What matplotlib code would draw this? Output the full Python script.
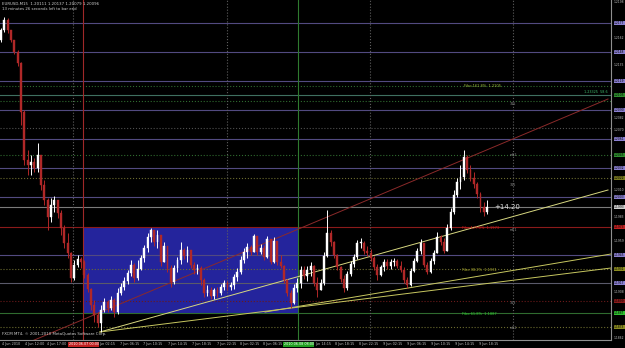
import matplotlib
matplotlib.use("Agg")
import matplotlib.pyplot as plt
from matplotlib.patches import Rectangle
from matplotlib.transforms import blended_transform_factory as btf

# ---------------- data (EURUSD M15) ----------------
first_open = 1.2160
closes = [1.2170,1.2180,1.2170,1.2160,1.2148,1.2137,1.2088,1.2040,1.2035,1.2038,
          1.2032,1.2045,1.2015,1.2000,1.1983,1.1995,1.2000,1.1987,1.1972,1.1957,
          1.1947,1.1922,1.1935,1.1941,1.1938,1.1925,1.1911,1.1895,1.1885,1.1877,
          1.1890,1.1898,1.1892,1.1900,1.1888,1.1907,1.1913,1.1919,1.1927,1.1935,
          1.1922,1.1931,1.1942,1.1952,1.1963,1.1970,1.1958,1.1965,1.1938,1.1954,
          1.1932,1.1918,1.1932,1.1940,1.1950,1.1944,1.1950,1.1935,1.1930,1.1932,
          1.1920,1.1907,1.1910,1.1904,1.1910,1.1907,1.1913,1.1917,1.1913,1.1915,
          1.1923,1.1928,1.1940,1.1948,1.1953,1.1948,1.1964,1.1948,1.1952,1.1943,
          1.1961,1.1938,1.1959,1.1938,1.1934,1.1920,1.1907,1.1897,1.1912,1.1917,
          1.1930,1.1924,1.1930,1.1934,1.1917,1.1910,1.1917,1.1944,1.1967,1.1958,
          1.1945,1.1933,1.1921,1.1912,1.1926,1.1936,1.1943,1.1957,1.1957,1.1949,
          1.1947,1.1942,1.1933,1.1925,1.1933,1.1938,1.1934,1.1938,1.1939,1.1934,
          1.1930,1.1920,1.1915,1.1929,1.1939,1.1949,1.1957,1.1935,1.1928,1.1939,
          1.1947,1.1963,1.1958,1.1949,1.1972,1.1988,1.2005,1.2018,1.2023,1.2043,
          1.2030,1.2022,1.2016,1.2006,1.1993,1.1988,1.1993]
highs = [1.2172,1.2183,1.2182,1.2170,1.2160,1.2150,1.2138,1.2090,1.2050,1.2045,
         1.2042,1.2057,1.2045,1.2020,1.2002,1.2002,1.2004,1.2000,1.1990,1.1975,
         1.1967,1.1948,1.1940,1.1945,1.1943,1.1940,1.1927,1.1912,1.1900,1.1888,
         1.1895,1.1902,1.1900,1.1904,1.1902,1.1912,1.1917,1.1923,1.1930,1.1940,
         1.1937,1.1940,1.1945,1.1955,1.1967,1.1972,1.1970,1.1970,1.1965,1.1958,
         1.1954,1.1935,1.1935,1.1943,1.1958,1.1952,1.1954,1.1950,1.1938,1.1936,
         1.1934,1.1922,1.1915,1.1913,1.1912,1.1913,1.1916,1.1920,1.1919,1.1918,
         1.1926,1.1932,1.1944,1.1952,1.1957,1.1955,1.1966,1.1964,1.1956,1.1955,
         1.1964,1.1960,1.1963,1.1958,1.1945,1.1935,1.1921,1.1910,1.1916,1.1922,
         1.1934,1.1934,1.1934,1.1938,1.1935,1.1923,1.1921,1.1948,1.1990,1.1970,
         1.1959,1.1946,1.1934,1.1925,1.1929,1.1939,1.1946,1.1960,1.1962,1.1959,
         1.1954,1.1951,1.1944,1.1936,1.1935,1.1941,1.1941,1.1941,1.1942,1.1941,
         1.1939,1.1933,1.1923,1.1932,1.1942,1.1952,1.1961,1.1957,1.1938,1.1942,
         1.1950,1.1968,1.1965,1.1962,1.1976,1.1992,1.2010,1.2022,1.2035,1.2050,
         1.2045,1.2035,1.2028,1.2018,1.2008,1.1998,1.2000]
lows = [1.2158,1.2168,1.2167,1.2158,1.2146,1.2134,1.2075,1.2035,1.2025,1.2025,
        1.2028,1.2028,1.2010,1.1995,1.1970,1.1978,1.1988,1.1982,1.1965,1.1952,
        1.1942,1.1918,1.1920,1.1933,1.1932,1.1922,1.1908,1.1890,1.1878,1.1873,
        1.1868,1.1888,1.1888,1.1890,1.1883,1.1886,1.1905,1.1910,1.1916,1.1924,
        1.1918,1.1920,1.1930,1.1938,1.1948,1.1958,1.1954,1.1952,1.1934,1.1938,
        1.1928,1.1913,1.1916,1.1928,1.1936,1.1941,1.1938,1.1932,1.1926,1.1926,
        1.1915,1.1903,1.1904,1.1901,1.1901,1.1903,1.1905,1.1910,1.1910,1.1910,
        1.1911,1.1919,1.1926,1.1937,1.1942,1.1945,1.1948,1.1945,1.1946,1.1940,
        1.1942,1.1936,1.1937,1.1935,1.1932,1.1917,1.1904,1.1892,1.1896,1.1908,
        1.1912,1.1921,1.1919,1.1924,1.1914,1.1903,1.1910,1.1915,1.1943,1.1954,
        1.1942,1.1930,1.1918,1.1908,1.1910,1.1924,1.1933,1.1941,1.1952,1.1946,
        1.1944,1.1939,1.1930,1.1920,1.1924,1.1929,1.1931,1.1931,1.1934,1.1932,
        1.1928,1.1917,1.1912,1.1914,1.1928,1.1938,1.1946,1.1933,1.1926,1.1927,
        1.1936,1.1948,1.1955,1.1947,1.1951,1.1970,1.1986,1.2003,1.2011,1.2020,
        1.2027,1.2019,1.2012,1.2002,1.1988,1.1984,1.1986]
opens = [first_open] + closes[:-1]

# horizontal objects: (price, color, style)
hlines = [(1.2177,'#524a80','-'),(1.2148,'#524a80','-'),(1.2119,'#524a80','-'),
          (1.2114,'#2f6b2f',':'),(1.2105,'#3f7060','-'),(1.2099,'#2f6b2f',':'),
          (1.2090,'#524a80','-'),(1.2072,'#505050',':'),(1.2061,'#524a80','-'),
          (1.2045,'#2f6b2f',':'),(1.2032,'#524a80','-'),(1.2022,'#6b6b2f',':'),
          (1.2003,'#524a80','-'),(1.1993,'#7a7a7a','-'),(1.1973,'#8b1a1a','-'),
          (1.1945,'#524a80','-'),(1.1931,'#6b6b2f',':'),(1.1917,'#5a5a6a','-'),
          (1.1899,'#6b1a1a',':'),(1.1887,'#2f6b2f','-'),(1.1873,'#6b6b2f',':')]
# right axis tag colors for those lines
tags = [(1.2177,'#8a7fd0'),(1.2148,'#8a7fd0'),(1.2119,'#8a7fd0'),(1.2105,'#2f8f2f'),
        (1.2090,'#8a7fd0'),(1.2061,'#8a7fd0'),(1.2045,'#2f8f2f'),(1.2032,'#8a7fd0'),
        (1.2022,'#7a7a20'),(1.2003,'#8a7fd0'),(1.1993,'#d0d0d0'),(1.1973,'#c02020'),
        (1.1945,'#8a7fd0'),(1.1931,'#8a8a20'),(1.1917,'#8a7fd0'),(1.1899,'#8b1a1a'),
        (1.1887,'#30c030'),(1.1873,'#8a8a20')]
price_ticks = [1.2198,1.2162,1.2135,1.2082,1.2070,1.2010,1.1983,1.1959,1.1908,1.1862]
vlines = [(21.6,'#606060',':'),(24.6,'#a02828','-'),(67.9,'#606060',':'),
          (89.2,'#2f7a2f','-'),(110.8,'#606060',':'),(153.8,'#606060',':')]
box = (24.6, 89.2, 1.1887, 1.1973)
trend = [((0, 1.1846), (182.3, 1.2101), '#8b2a2a'),
         ((29.7, 1.1868), (182.3, 1.2010), '#d8d880'),
         ((29.7, 1.1868), (183.2, 1.1932), '#c8c860'),
         ((79.3, 1.1888), (183.2, 1.1946), '#c8c860')]
time_pos = [0.3,7.2,13.8,29.6,35.7,42.6,50.2,57.4,64.9,71.8,78.7,94.2,100.3,
            107.5,114.7,121.9,129.1,136.3,143.5]
time_lab = ['4 Jun 2010','4 Jun 12:00','4 Jun 17:00','Jun 02:15','7 Jun 06:15',
            '7 Jun 10:15','7 Jun 14:15','7 Jun 18:15','7 Jun 22:15','8 Jun 02:15',
            '8 Jun 06:15','Jun 14:15','8 Jun 18:15','8 Jun 22:15','9 Jun 02:15',
            '9 Jun 06:15','9 Jun 10:15','9 Jun 14:15','9 Jun 18:15']

# ---------------- figure ----------------
fig = plt.figure(figsize=(6.25, 3.48), dpi=100, facecolor='black')
ax = fig.add_axes([0, 8/348, 611/625, 340/348])
ax.set_facecolor('black')
ax.set_xlim(-0.3, 183.2)
ax.set_ylim(1.1860, 1.2200)
for s in ['top', 'left']:
    ax.spines[s].set_visible(False)
for s in ['right', 'bottom']:
    ax.spines[s].set_color('#909090')
    ax.spines[s].set_linewidth(0.8)
ax.set_xticks([])
ax.set_yticks([])

ax.add_patch(Rectangle((box[0], box[2]), box[1]-box[0], box[3]-box[2],
                       facecolor='#24249c', edgecolor='none', zorder=0.5))
for p, c, ls in hlines:
    ax.axhline(p, color=c, ls=ls, lw=0.8, zorder=1)
for xv, c, ls in vlines:
    ax.axvline(xv, color=c, ls=ls, lw=0.8, zorder=1)
for (x0, y0), (x1, y1), c in trend:
    ax.plot([x0, x1], [y0, y1], color=c, lw=0.7, zorder=2)

# candles
for i in range(len(closes)):
    o, h, l, c = opens[i], highs[i], lows[i], closes[i]
    up = c >= o
    col = '#ffffff' if up else '#b02828'
    ax.vlines(i, min(l, o, c), max(h, o, c), color=col, lw=0.7, zorder=3)
    lo, hi = min(o, c), max(o, c)
    ax.bar(i, max(hi - lo, 0.00008), bottom=lo, width=0.55, color=col,
           edgecolor=col, linewidth=0.3, zorder=4)

# right axis price labels
tr = btf(ax.transAxes, ax.transData)
for p in price_ticks:
    ax.text(1.005, p, f'{p:.4f}', transform=tr, fontsize=2.2, color='#c0c0c0',
            va='center', ha='left', clip_on=False)
for p, c in tags:
    ax.text(1.005, p, f'{p:.4f}', transform=tr, fontsize=2.2, color='black',
            va='center', ha='left', clip_on=False,
            bbox=dict(boxstyle='square,pad=0.1', fc=c, ec='none'))

# time axis labels
tb = btf(ax.transData, ax.transAxes)
for xp, lab in zip(time_pos, time_lab):
    ax.text(xp, -0.006, lab, transform=tb, fontsize=2.4, color='#c0c0c0',
            va='top', ha='left', clip_on=False)
ax.text(20.3, -0.006, '2010.06.07 00:00', transform=tb, fontsize=2.4, color='white',
        va='top', ha='left', clip_on=False,
        bbox=dict(boxstyle='square,pad=0.15', fc='#c02020', ec='none'))
ax.text(84.9, -0.006, '2010.06.08 08:00', transform=tb, fontsize=2.4, color='white',
        va='top', ha='left', clip_on=False,
        bbox=dict(boxstyle='square,pad=0.15', fc='#20a020', ec='none'))

# chart texts
ax.text(0.003, 0.993, 'EURUSD,M15  1.20111 1.20137 1.20079 1.20096', transform=ax.transAxes,
        fontsize=2.8, color='#d0d0d0', va='top', ha='left')
ax.text(0.003, 0.978, '13 minutes 26 seconds left to bar end', transform=ax.transAxes,
        fontsize=2.8, color='#d0d0d0', va='top', ha='left')
ax.text(0.003, 0.012, 'FXCM MT4, \u00a9 2001-2010 MetaQuotes Software Corp.',
        transform=ax.transAxes, fontsize=2.8, color='#d0d0d0', va='bottom', ha='left')
ax.text(148, 1.1993, '+14.20', fontsize=5, color='#e0e0e0', va='center', ha='left')
ax.text(139, 1.2112, 'Fibo 161.8%  1.2105', fontsize=2.6, color='#9fbf3f', va='bottom')
ax.text(175, 1.2106, '1.23325  58.6', fontsize=2.4, color='#3fbf6f', va='bottom')
ax.text(138.5, 1.1974, 'Fibo 127.0%  1.1973', fontsize=2.6, color='#d02020', va='top')
ax.text(138.5, 1.1932, 'Fibo 38.2%  1.1931', fontsize=2.6, color='#b0b030', va='top')
ax.text(138.5, 1.1888, 'Fibo 61.8%  1.1887', fontsize=2.6, color='#30d030', va='top')
for yv, t in [(1.2096, '315'), (1.2045, 'm52'), (1.2015, '315'), (1.1970, 'm51'),
              (1.1897, '313'), (1.1872, 'm52')]:
    ax.text(152.8, yv, t, fontsize=2.4, color='#909090', va='center', ha='left')

fig.savefig('out.png', dpi=100, facecolor='black')
